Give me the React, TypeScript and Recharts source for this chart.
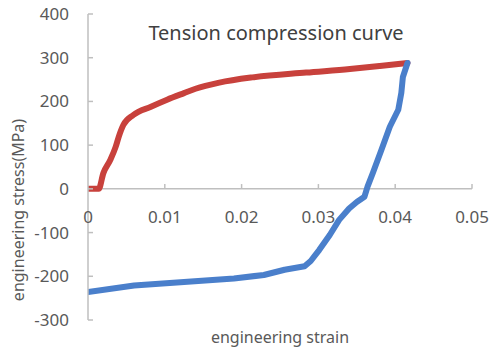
import { LineChart, Line, XAxis, YAxis, ReferenceLine, ReferenceDot } from 'recharts';

// tension branch (loading), strain vs stress in MPa
const tensionStrain = [0, 0.0014, 0.002, 0.0029, 0.0036, 0.004, 0.0046, 0.0059, 0.0082, 0.0103, 0.0125, 0.014, 0.0171, 0.0214, 0.0284, 0.0341, 0.038, 0.0416];
const tensionStress = [0, 0, 36, 66, 96, 119, 146, 169, 188, 204, 219, 229, 243, 255, 266, 274, 281, 288];

// compression branch (unloading / reverse loading)
const compStrain = [0.0416, 0.041, 0.0408, 0.0404, 0.0393, 0.0382, 0.0371, 0.0364, 0.036, 0.035, 0.034, 0.0327, 0.0315, 0.0301, 0.029, 0.0282, 0.0256, 0.0229, 0.019, 0.0125, 0.006, 0];
const compStress = [288, 256, 220, 181, 142, 89, 37, 5, -18, -30, -45, -71, -105, -140, -165, -177, -185, -197, -205, -213, -221, -236];

const xTicks = [0, 0.01, 0.02, 0.03, 0.04, 0.05];
const yTicks = [-300, -200, -100, 0, 100, 200, 300, 400];

const tension = tensionStrain.map((x, i) => ({ x, y: tensionStress[i] }));
const compression = compStrain.map((x, i) => ({ x, y: compStress[i] }));

const FONT = '"Noto Sans", sans-serif';
const AXIS = '#bfbfbf';
const TEXT = '#595959';

const YLabel = ({ viewBox }: any) => {
  const cx = viewBox.x + 18;
  const cy = viewBox.y + viewBox.height / 2 + 43;
  return (
    <text x={cx} y={cy} transform={`rotate(-90 ${cx} ${cy})`} textAnchor="middle" dominantBaseline="central"
      fontSize={16} fill={TEXT} fontFamily={FONT}>
      engineering stress(MPa)
    </text>
  );
};

const XLabel = ({ viewBox }: any) => (
  <text x={viewBox.x + viewBox.width / 2} y={viewBox.y + 17} textAnchor="middle" dominantBaseline="central"
    fontSize={16} fill={TEXT} fontFamily={FONT}>
    engineering strain
  </text>
);

export default function App() {
  return (
    <div style={{ position: 'absolute', left: 0, top: 0, width: 490, height: 351, background: '#fff' }}>
      <div style={{ position: 'absolute', left: 0, width: 552, top: 21, textAlign: 'center', fontFamily: FONT, fontSize: 20, color: '#404040', lineHeight: '24px', zIndex: 1 }}>
        Tension compression curve
      </div>
      <LineChart width={490} height={351} margin={{ top: 14, right: 18, bottom: 0, left: 0 }}>
        <XAxis type="number" dataKey="x" domain={[0, 0.05]} ticks={xTicks} tick={false} axisLine={false} tickLine={false}
          height={31} allowDataOverflow label={<XLabel />} />
        <YAxis type="number" dataKey="y" domain={[-300, 400]} ticks={yTicks} interval={0} width={88}
          tickSize={-5} tickMargin={24} axisLine={{ stroke: AXIS, strokeWidth: 1.5 }} tickLine={{ stroke: AXIS, strokeWidth: 1.5 }}
          tick={{ fontSize: 17, fill: TEXT, fontFamily: FONT }} label={<YLabel />} />
        <ReferenceLine y={0} stroke={AXIS} strokeWidth={1.5} />
        {xTicks.slice(1).map((t) => (
          <ReferenceLine key={`t${t}`} segment={[{ x: t, y: 0 }, { x: t, y: 11 }]} stroke={AXIS} strokeWidth={1.5} />
        ))}
        {xTicks.map((t) => (
          <ReferenceDot key={`l${t}`} x={t} y={0} r={0} stroke="none" fill="none"
            label={({ viewBox }: any) => (
              <text x={viewBox.x + viewBox.width / 2} y={viewBox.y + 28} textAnchor="middle" dominantBaseline="central"
                fontSize={17} fill={TEXT} fontFamily={FONT}>
                {t}
              </text>
            )} />
        ))}
        <Line data={tension} dataKey="y" type="monotone" stroke="#c8413c" strokeWidth={6} dot={false}
          strokeLinecap="round" strokeLinejoin="round" isAnimationActive={false} />
        <Line data={compression} dataKey="y" type="linear" stroke="#4a7fcb" strokeWidth={6} dot={false}
          strokeLinecap="round" strokeLinejoin="round" isAnimationActive={false} />
      </LineChart>
    </div>
  );
}
